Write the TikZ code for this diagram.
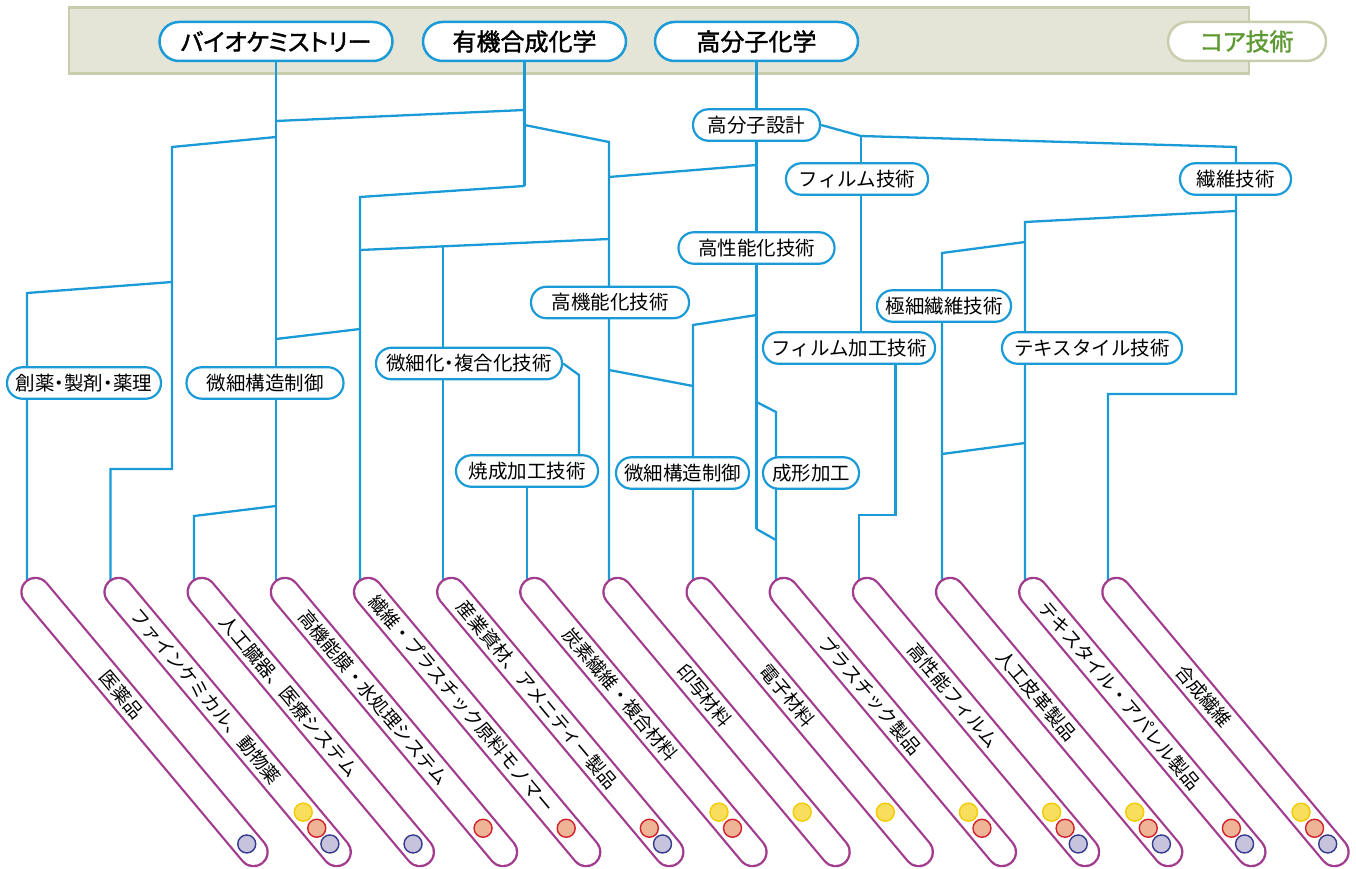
\documentclass[tikz,border=0pt]{standalone}
\usepackage{fontspec}
\setmainfont{Noto Sans CJK JP}
\newfontfamily\hdrfont{Noto Sans CJK JP}[RawFeature=+palt,FakeBold=1.6]
\newcommand{\halfdot}{\kern-.25em・\kern-.25em}
\usetikzlibrary{calc}
\definecolor{lineblue}{HTML}{1A9BD7}
\definecolor{pillpurple}{HTML}{A23C8E}
\definecolor{bandfill}{HTML}{E5E5D7}
\definecolor{bandline}{HTML}{C9CDAB}
\definecolor{coregreen}{HTML}{5E9A33}
\definecolor{yelF}{HTML}{F8DE5C}
\definecolor{yelD}{HTML}{F2CB00}
\definecolor{salF}{HTML}{EDB596}
\definecolor{salD}{HTML}{D4202C}
\definecolor{lavF}{HTML}{C8C3DD}
\definecolor{lavD}{HTML}{343A8E}
\pgfdeclarelayer{back}
\pgfdeclarelayer{lines}
\pgfsetlayers{back,lines,main}
\begin{document}
\begin{tikzpicture}[x=1pt,y=-1pt,
  conn/.style={draw=lineblue,line width=2.3pt},
  lab/.style={draw=lineblue,line width=2.2pt,fill=white,rounded corners=15.5pt,minimum height=31.5pt,inner sep=0pt,font=\fontsize{19.5}{21}\selectfont},
  hdr/.style={draw=lineblue,line width=2.5pt,fill=white,rounded corners=19.5pt,minimum height=39pt,inner sep=0pt,font=\hdrfont\fontsize{24}{26}\selectfont},
  pillout/.style={draw=pillpurple,line width=30.5pt,line cap=round},
  pillin/.style={draw=white,line width=26pt,line cap=round},
  plabel/.style={rotate=-50.02,inner sep=0pt,font=\fontsize{18.5}{20}\selectfont},
  dotY/.style={circle,minimum size=18pt,inner sep=0pt,fill=yelF,draw=yelD,line width=1.4pt},
  dotS/.style={circle,minimum size=18pt,inner sep=0pt,fill=salF,draw=salD,line width=1.4pt},
  dotL/.style={circle,minimum size=18pt,inner sep=0pt,fill=lavF,draw=lavD,line width=1.4pt}]
\useasboundingbox (0,0) rectangle (1356,869);

% header band
\begin{pgfonlayer}{back}
\fill[bandfill,draw=bandline,line width=2.5pt] (69,7.5) rectangle (1249,73.5);
\end{pgfonlayer}

% header nodes
\node[hdr,minimum width=233pt] (bio) at (276,41.5) {バイオケミストリー};
\node[hdr,minimum width=203pt] (org) at (524.5,41.5) {有機合成化学};
\node[hdr,minimum width=203pt] (poly) at (756.5,41.5) {高分子化学};
\node[hdr,minimum width=158pt,draw=bandline,text=coregreen] (core) at (1247,41.5) {コア技術};

% technology nodes
\node[lab,minimum width=127pt] (kobunshi) at (756.5,125) {高分子設計};
\node[lab,minimum width=142pt] (film) at (857,179) {フィルム技術};
\node[lab,minimum width=111pt] (seni) at (1235.5,179) {繊維技術};
\node[lab,minimum width=156pt] (koseino) at (756.5,248) {高性能化技術};
\node[lab,minimum width=158pt] (kokino) at (610,302.5) {高機能化技術};
\node[lab,minimum width=134pt] (gokusai) at (944,306) {極細繊維技術};
\node[lab,minimum width=154pt] (soyaku) at (84,383) {創薬\halfdot 製剤\halfdot 薬理};
\node[lab,minimum width=157pt] (bisaiA) at (265,383) {微細構造制御};
\node[lab,minimum width=186pt] (bisaika) at (469,363.5) {微細化\halfdot 複合化技術};
\node[lab,minimum width=172pt] (filmk) at (849,348) {フィルム加工技術};
\node[lab,minimum width=180pt] (tex) at (1092,348) {テキスタイル技術};
\node[lab,minimum width=142pt] (shosei) at (527,471) {焼成加工技術};
\node[lab,minimum width=133pt] (bisaiB) at (682.5,473) {微細構造制御};
\node[lab,minimum width=96pt] (seikei) at (811,473) {成形加工};

% product pills
\foreach \k/\txt/\cy/\cs/\cl/\t in {
  1/医薬品/0/0/1/134,
  2/ファインケミカル、動物薬/1/1/1/136,
  3/人工臓器、医療システム/0/0/1/136,
  4/高機能膜・水処理システム/0/1/0/138,
  5/繊維・プラスチック原料モノマー/0/1/0/146,
  6/産業資材、アメニティー製品/0/1/1/134,
  7/炭素繊維・複合材料/1/1/0/134,
  8/印写材料/1/0/0/135,
  9/電子材料/1/0/0/135,
  10/プラスチック製品/1/1/0/135,
  11/高性能フィルム/1/1/1/135,
  12/人工皮革製品/1/1/1/135,
  13/テキスタイル・アパレル製品/0/1/1/135,
  14/合成繊維/1/1/1/136}{
  \pgfmathsetmacro\tx{35.5+83.15*(\k-1)}
  \pgfmathsetmacro\lx{\tx+0.6425*\t}
  \pgfmathsetmacro\ly{592+0.7663*\t}
  \coordinate (pt\k) at (\tx,592);
  \coordinate (pb\k) at (\tx+218,852);
  \draw[pillout] (pt\k) -- (pb\k);
  \draw[pillin] (pt\k) -- (pb\k);
  \node[plabel] (lab\k) at (\lx,\ly) {\txt};
  \ifnum\cy=1 \node[dotY] (y\k) at (\tx+218-33.4,852-39.85) {};\fi
  \ifnum\cs=1 \node[dotS] (s\k) at (\tx+218-19.9,852-23.75) {};\fi
  \ifnum\cl=1 \node[dotL] (l\k) at (\tx+218-6.75,852-8.05) {};\fi
}

% pins at pill tops
\foreach \k/\x in {1/27,2/110.5,3/194,4/276,5/360,6/443,7/527,8/609,9/693,10/776,11/859,12/942,13/1025,14/1108}{
  \coordinate (pin\k) at (\x,592);
}

% junctions
\coordinate (j1) at (276,121);
\coordinate (j2) at (524.5,110);
\coordinate (j3) at (524.5,125);
\coordinate (j4) at (609,142);
\coordinate (j5) at (524.5,186);
\coordinate (j6) at (360,197);
\coordinate (j7) at (276,137);
\coordinate (j8) at (172,147);
\coordinate (j9) at (172,469);
\coordinate (j10) at (110.5,469);
\coordinate (j11) at (172,282);
\coordinate (j12) at (27,293);
\coordinate (j13) at (609,177);
\coordinate (j14) at (756.5,165);
\coordinate (j15) at (609,239);
\coordinate (j16) at (360,250);
\coordinate (j17) at (443,246.3);
\coordinate (j18) at (360,329);
\coordinate (j19) at (276,339);
\coordinate (j20) at (579,375);
\coordinate (j21) at (609,370);
\coordinate (j22) at (693,386);
\coordinate (j23) at (756.5,315);
\coordinate (j24) at (693,325);
\coordinate (j25) at (756.5,402);
\coordinate (j26) at (776,412);
\coordinate (j27) at (756.5,529);
\coordinate (j28) at (776,540);
\coordinate (j29) at (861,136);
\coordinate (j30) at (1236,147);
\coordinate (j31) at (1236,394);
\coordinate (j32) at (1108,394);
\coordinate (j33) at (895.6,515);
\coordinate (j34) at (859,515);
\coordinate (j35) at (1236,211);
\coordinate (j36) at (1025,222);
\coordinate (j37) at (1025,242);
\coordinate (j38) at (942,253);
\coordinate (j39) at (1025,443);
\coordinate (j40) at (942,454);
\coordinate (j41) at (276,506);
\coordinate (j42) at (194,516);

\begin{pgfonlayer}{lines}
\draw[conn] (bio.south) -- (pin4);
\draw[conn] (org.south) -- (j5);
\draw[conn] (poly.south) -- (j27);
\draw[conn] (j1) -- (j2);
\draw[conn] (j3) -- (j4) -- (pin8);
\draw[conn] (j5) -- (j6) -- (pin5);
\draw[conn] (j7) -- (j8) -- (j9) -- (j10) -- (pin2);
\draw[conn] (j11) -- (j12) -- (pin1);
\draw[conn] (j13) -- (j14);
\draw[conn] (j15) -- (j16);
\draw[conn] (j17) -- (pin6);
\draw[conn] (j18) -- (j19);
\draw[conn] (bisaika.east) -- (j20) -- (j20 |- shosei.north);
\draw[conn] (shosei.south) -- (pin7);
\draw[conn] (j21) -- (j22);
\draw[conn] (j23) -- (j24) -- (pin9);
\draw[conn] (j25) -- (j26) -- (pin10);
\draw[conn] (j27) -- (j28);
\draw[conn] (kobunshi.east) -- (j29) -- (j30) -- (j31) -- (j32) -- (pin14);
\draw[conn] (j29) -- (j29 |- filmk.north);
\draw[conn] (j33 |- filmk.south) -- (j33) -- (j34) -- (pin11);
\draw[conn] (j35) -- (j36) -- (pin13);
\draw[conn] (j37) -- (j38) -- (pin12);
\draw[conn] (j39) -- (j40);
\draw[conn] (j41) -- (j42) -- (pin3);
\end{pgfonlayer}
\end{tikzpicture}
\end{document}
